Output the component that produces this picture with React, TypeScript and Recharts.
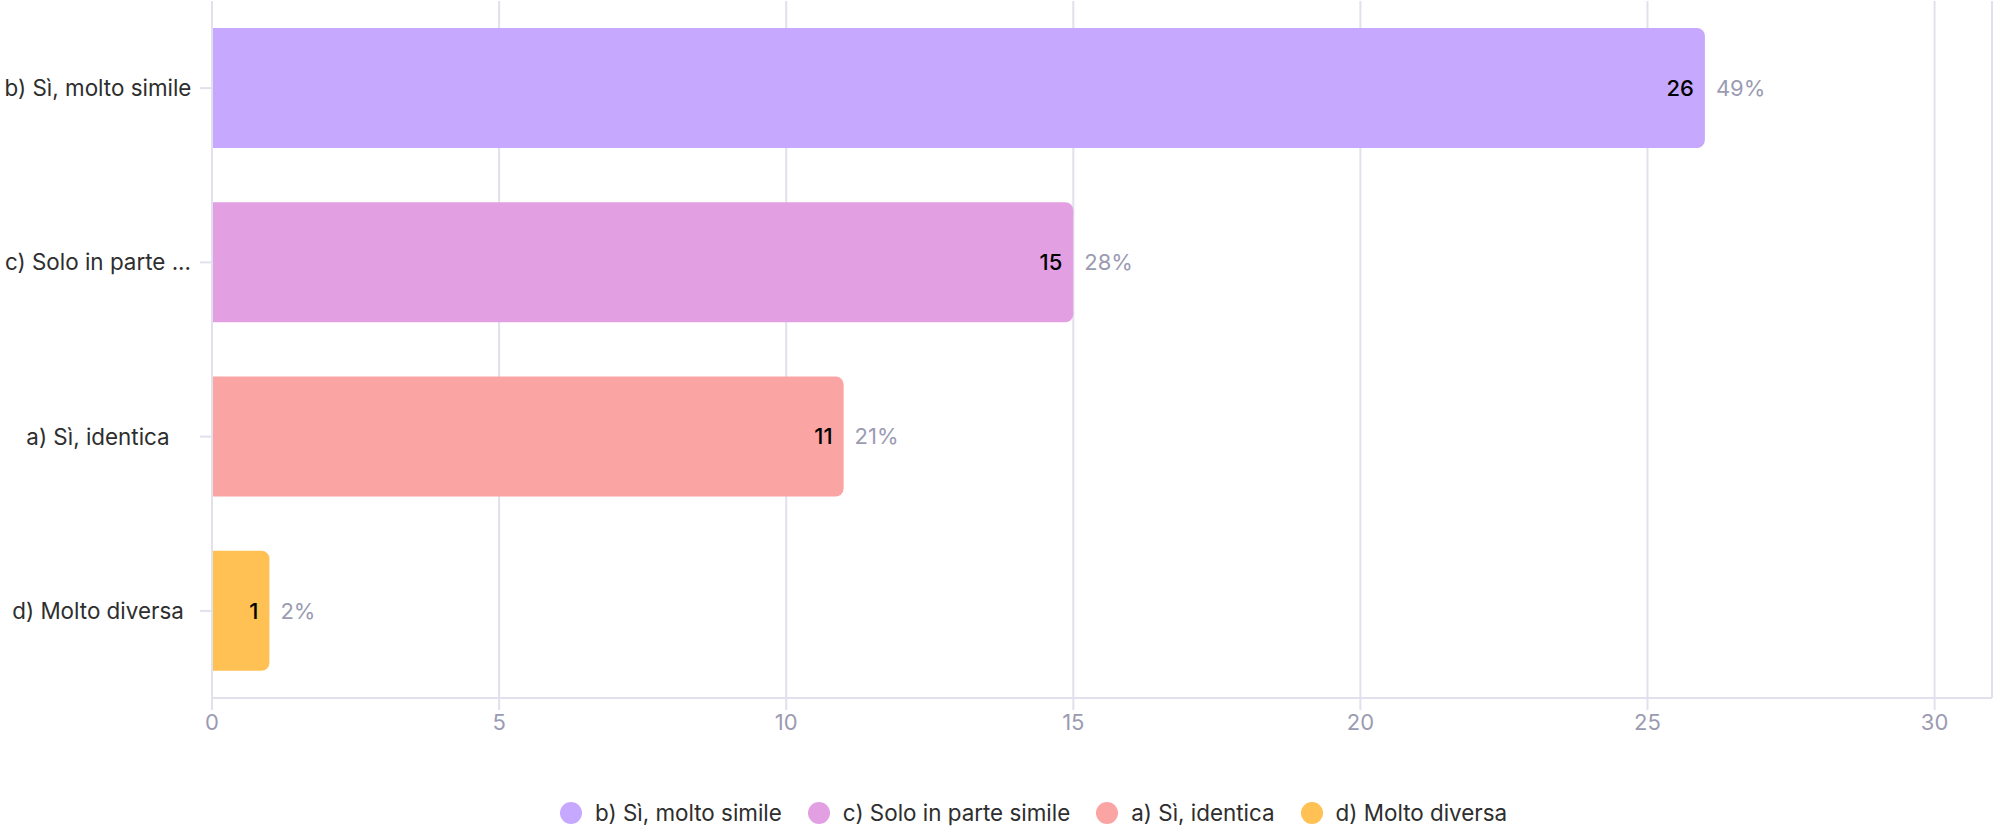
import { Bar, BarChart, CartesianGrid, Cell, LabelList, ReferenceLine, XAxis, YAxis } from "recharts"

const categories = ["b) Sì, molto simile", "c) Solo in parte simile", "a) Sì, identica", "d) Molto diversa"]
const counts = [26, 15, 11, 1]
const percents = [49, 28, 21, 2]
const colors = ["#c6a9fe", "#e2a0e3", "#fba4a4", "#ffc153"]
const xTicks = [0, 5, 10, 15, 20, 25, 30]

const FONT = "Inter, 'Noto Sans', sans-serif"
const GRID = "#e1e1ee"
const MUTED = "#9b9bb2"

const data = categories.map((name, i) => ({ name, count: counts[i], pct: `${percents[i]}%` }))

function CategoryTick(props: any) {
  const { x, y, payload } = props
  const label: string = payload.value
  const text = label.length > 20 ? label.slice(0, 16) + " ..." : label
  return (
    <text x={x - 102} y={y} dy="0.36em" textAnchor="middle" fill="#2e2e2e" fontSize={22.4} fontFamily={FONT}>
      {text}
    </text>
  )
}

export default function App() {
  return (
    <div style={{ position: "absolute", left: 0, top: 0, width: 1993, height: 831, background: "#fff" }}>
      <BarChart
        width={1993}
        height={760}
        data={data}
        layout="vertical"
        barSize={120}
        margin={{ top: 1, right: 1, left: 0, bottom: 0 }}
      >
        <CartesianGrid horizontal={false} stroke={GRID} strokeWidth={2} />
        <XAxis
          type="number"
          domain={[0, 31]}
          ticks={xTicks}
          height={62}
          stroke={GRID}
          strokeWidth={2}
          tickSize={12}
          tickMargin={4}
          tick={{ fill: MUTED, fontSize: 22, fontFamily: FONT }}
        />
        <YAxis
          type="category"
          dataKey="name"
          width={212}
          stroke={GRID}
          strokeWidth={2}
          tickSize={12}
          tickMargin={0}
          tick={<CategoryTick />}
        />
        <ReferenceLine x={31} stroke={GRID} strokeWidth={2} />
        <Bar dataKey="count" radius={[0, 8, 8, 0]} isAnimationActive={false}>
          {data.map((d, i) => (
            <Cell key={d.name} fill={colors[i]} />
          ))}
          <LabelList dataKey="count" position="insideRight" offset={11} fill="#000" fontSize={22} fontWeight={500} fontFamily={FONT} />
          <LabelList dataKey="pct" position="right" offset={11} fill={MUTED} fontSize={22} fontFamily={FONT} />
        </Bar>
      </BarChart>
      <div
        style={{
          position: "absolute",
          left: 560,
          top: 799,
          display: "flex",
          alignItems: "center",
          fontFamily: FONT,
          fontSize: 22.4,
          color: "#2e2e2e",
          whiteSpace: "nowrap",
        }}
      >
        {categories.map((c, i) => (
          <div key={c} style={{ display: "flex", alignItems: "center", marginRight: 26 }}>
            <span
              style={{ width: 22, height: 22, borderRadius: "50%", background: colors[i], marginRight: 13, display: "inline-block" }}
            />
            <span>{c}</span>
          </div>
        ))}
      </div>
    </div>
  )
}
